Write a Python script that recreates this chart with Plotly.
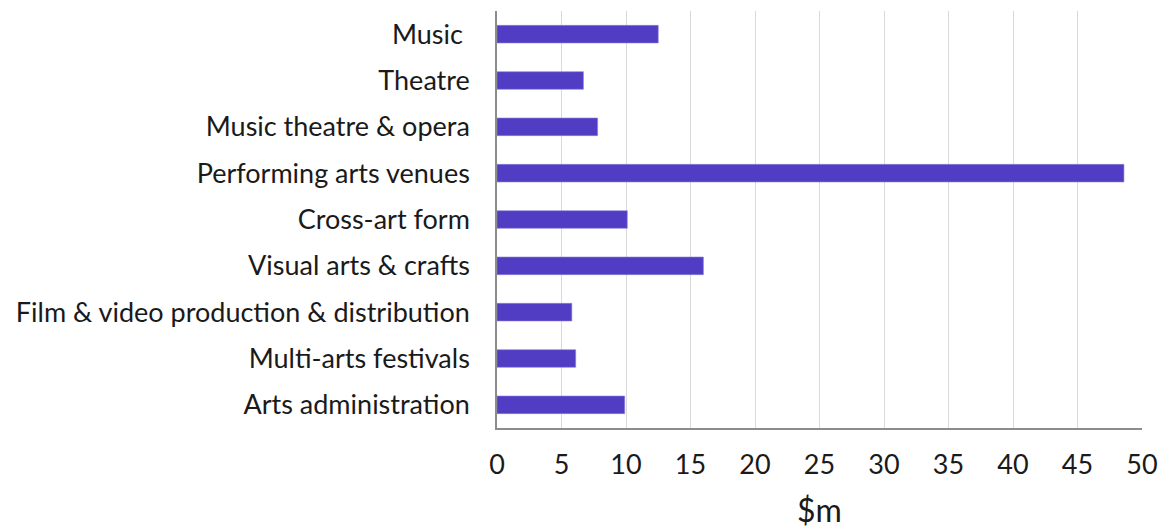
import plotly.graph_objects as go

categories = [
    "Music\u00a0",
    "Theatre",
    "Music theatre & opera",
    "Performing arts venues",
    "Cross-art form",
    "Visual arts & crafts",
    "Film & video production & distribution",
    "Multi-arts festivals",
    "Arts administration",
]
values = [12.5, 6.7, 7.8, 48.6, 10.1, 16.0, 5.8, 6.1, 9.9]
x_ticks = list(range(0, 51, 5))

font_name = "Lato, Open Sans, sans-serif"

fig = go.Figure(
    go.Bar(
        x=values,
        y=categories,
        orientation="h",
        marker=dict(color="#503DC4", line=dict(color="#8a7fd6", width=0.6)),
    )
)

# page body has an 8px margin, so the figure is sized to fit the window
fig.update_layout(
    width=1159,
    height=521,
    margin=dict(l=489, r=25, t=3, b=101),
    plot_bgcolor="white",
    paper_bgcolor="white",
    bargap=0.62,
    showlegend=False,
    font=dict(family=font_name, size=27, color="#1a1a1a"),
)

fig.update_xaxes(
    range=[0, 50],
    tickvals=x_ticks,
    automargin=False,
    showgrid=True,
    gridcolor="#d9d9d9",
    gridwidth=1.3,
    showline=True,
    linecolor="#8c8c8c",
    linewidth=1.5,
    zeroline=False,
    ticks="",
    ticklabelstandoff=12,
    title=dict(text="$m", standoff=20),
)

fig.update_yaxes(
    autorange="reversed",
    automargin=False,
    showline=True,
    linecolor="#8c8c8c",
    linewidth=1.5,
    showgrid=False,
    ticks="",
    ticklabelstandoff=20,
)

fig.write_html("out.html")
